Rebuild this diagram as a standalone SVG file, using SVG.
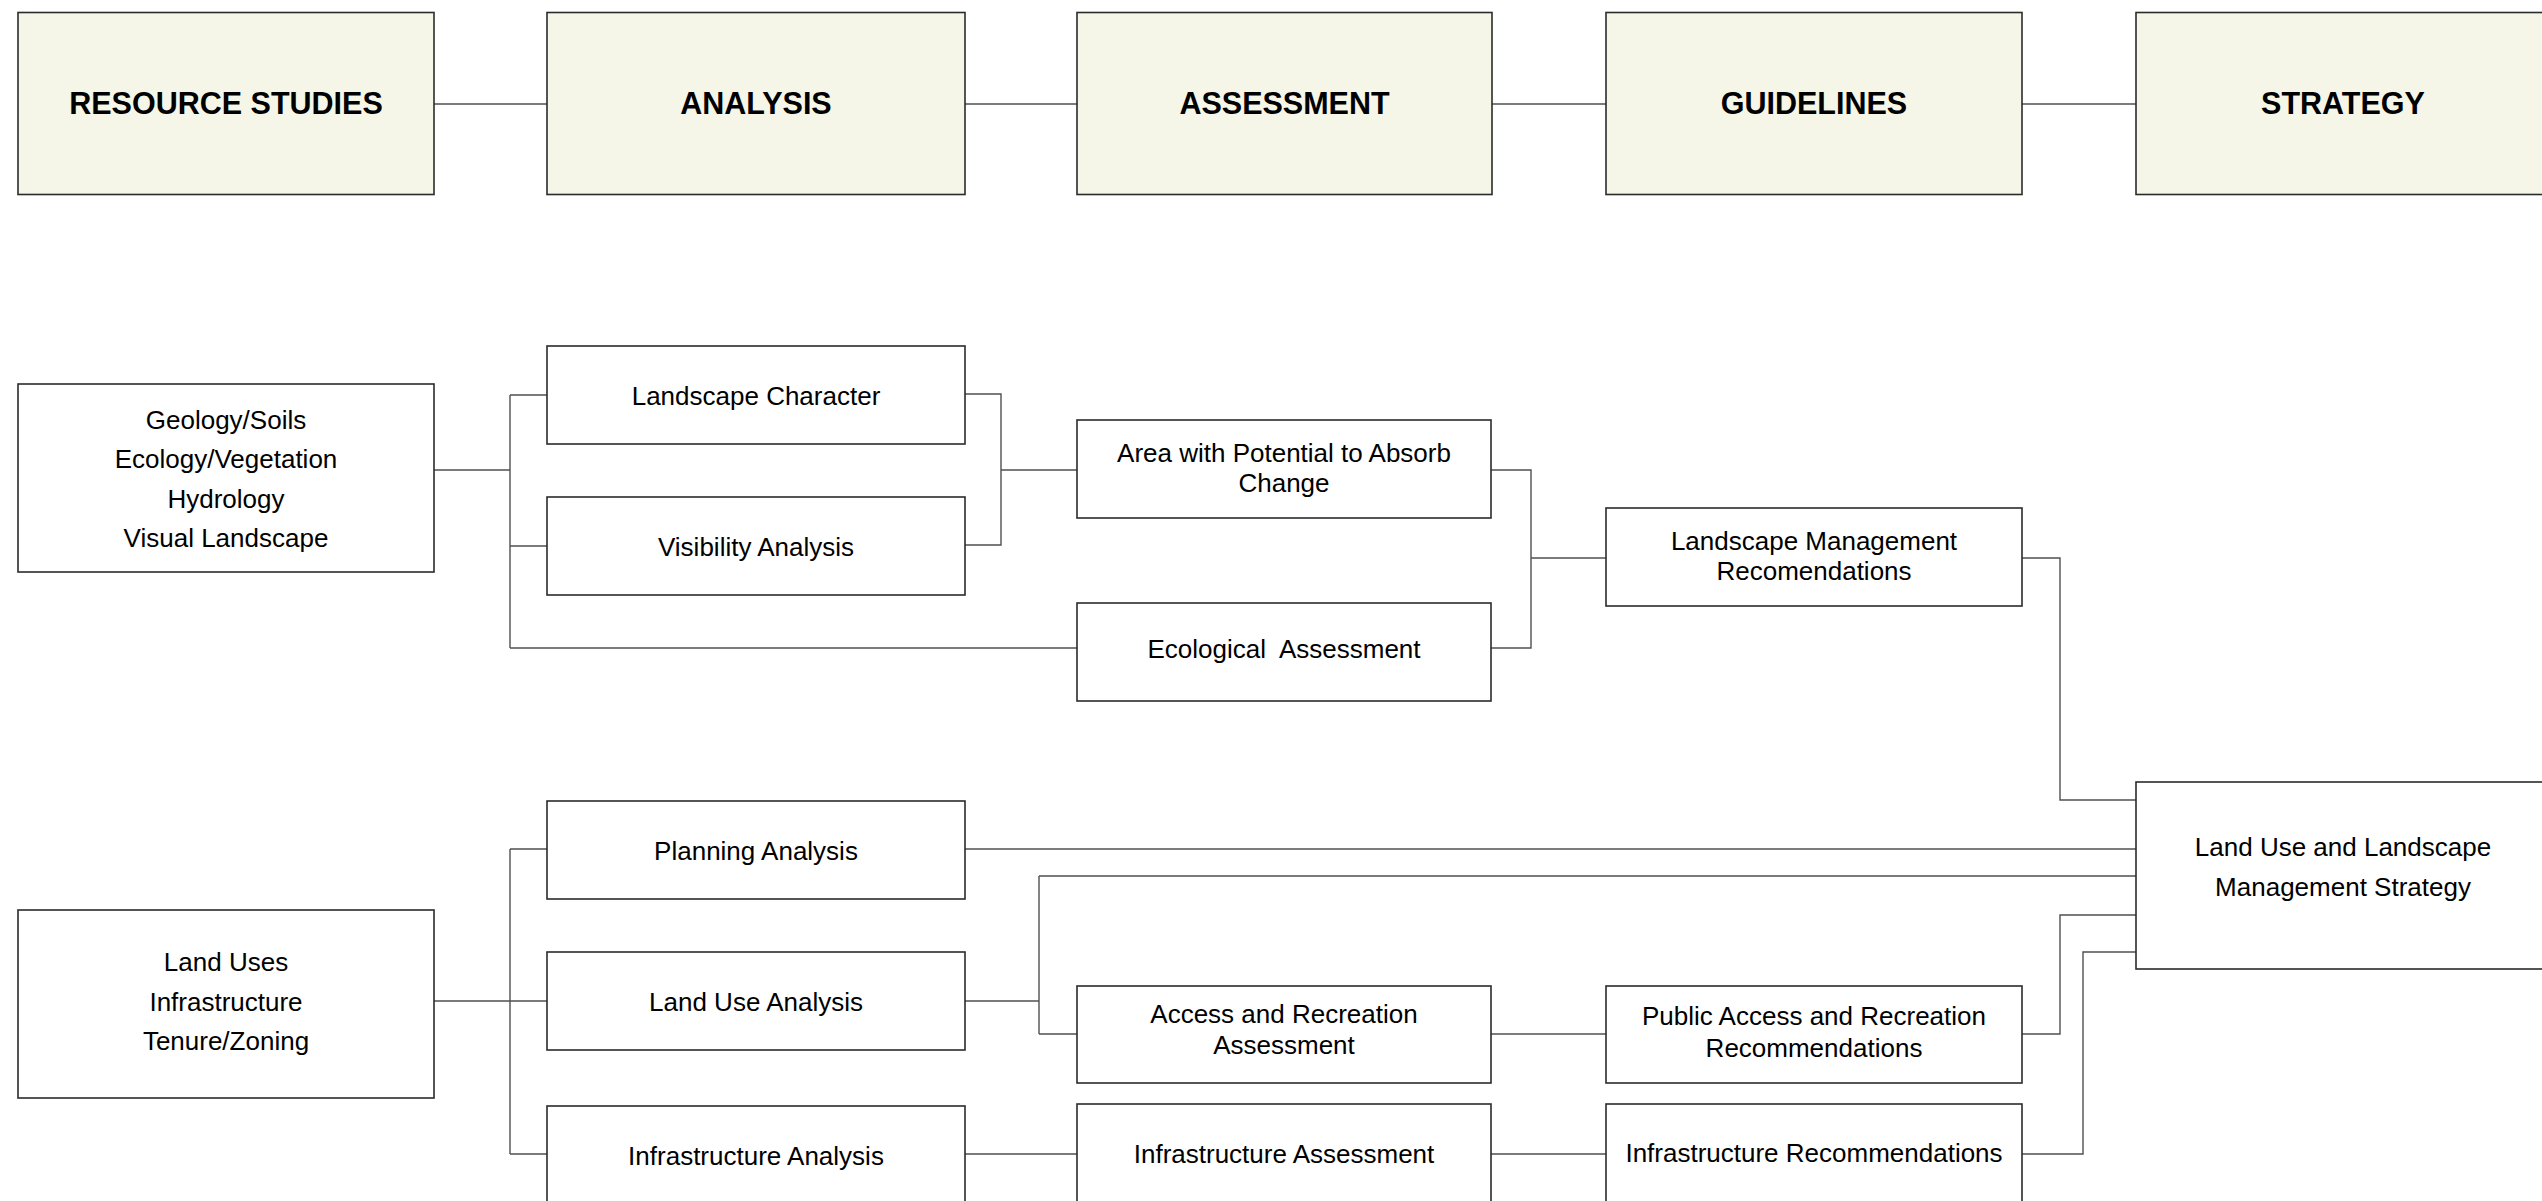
<svg xmlns="http://www.w3.org/2000/svg" width="2542" height="1201" viewBox="0 0 2542 1201">
<style>
  .hdr { fill: #F5F6E8; stroke: #2b2b2b; stroke-width: 1.6; }
  .box { fill: #FFFFFF; stroke: #2b2b2b; stroke-width: 1.6; }
  .ht { font-family: "Liberation Sans", Arial, sans-serif; font-size: 30.5px; font-weight: bold; fill: #000; text-anchor: middle; }
  .t { font-family: "Liberation Sans", Arial, sans-serif; font-size: 26px; fill: #000; text-anchor: middle; }
  .c { fill: none; stroke: #505050; stroke-width: 1.4; }
</style>
<rect width="2542" height="1201" fill="#FFFFFF"/>

<g id="connectors">
  <path class="c" d="M434,104 H547 M965,104 H1077 M1492,104 H1606 M2022,104 H2136"/>
  <path class="c" d="M434,470 H510 M510,395 V648 M510,395 H547 M510,546 H547 M510,648 H1077"/>
  <path class="c" d="M965,394 H1001 V545 H965 M1001,470 H1077"/>
  <path class="c" d="M1491,470 H1531 V648 H1491 M1531,558 H1606"/>
  <path class="c" d="M2022,558 H2060 V800 H2136"/>
  <path class="c" d="M434,1001 H547 M510,849 V1154 M510,849 H547 M510,1154 H547"/>
  <path class="c" d="M965,849 H2136"/>
  <path class="c" d="M965,1001 H1039 M1039,876 V1034 M1039,876 H2136 M1039,1034 H1077"/>
  <path class="c" d="M1491,1034 H1606"/>
  <path class="c" d="M2022,1034 H2060 V915 H2136"/>
  <path class="c" d="M965,1154 H1077 M1491,1154 H1606"/>
  <path class="c" d="M2022,1154 H2083 V952 H2136"/>
</g>

<g id="hdr-resource"><rect class="hdr" x="18" y="12.5" width="416" height="182"/><text class="ht" x="226" y="113.5">RESOURCE STUDIES</text></g>
<g id="hdr-analysis"><rect class="hdr" x="547" y="12.5" width="418" height="182"/><text class="ht" x="756" y="113.5">ANALYSIS</text></g>
<g id="hdr-assessment"><rect class="hdr" x="1077" y="12.5" width="415" height="182"/><text class="ht" x="1284.5" y="113.5">ASSESSMENT</text></g>
<g id="hdr-guidelines"><rect class="hdr" x="1606" y="12.5" width="416" height="182"/><text class="ht" x="1814" y="113.5">GUIDELINES</text></g>
<g id="hdr-strategy"><rect class="hdr" x="2136" y="12.5" width="416" height="182"/><text class="ht" x="2343" y="113.5">STRATEGY</text></g>

<g id="n-geology"><rect class="box" x="18" y="384" width="416" height="188"/>
  <text class="t" x="226" y="429">Geology/Soils</text>
  <text class="t" x="226" y="468">Ecology/Vegetation</text>
  <text class="t" x="226" y="507.5">Hydrology</text>
  <text class="t" x="226" y="546.5">Visual Landscape</text></g>
<g id="n-landscape-character"><rect class="box" x="547" y="346" width="418" height="98"/><text class="t" x="756" y="405">Landscape Character</text></g>
<g id="n-visibility"><rect class="box" x="547" y="497" width="418" height="98"/><text class="t" x="756" y="556">Visibility Analysis</text></g>
<g id="n-area"><rect class="box" x="1077" y="420" width="414" height="98"/>
  <text class="t" x="1284" y="461.5">Area with Potential to Absorb</text>
  <text class="t" x="1284" y="492">Change</text></g>
<g id="n-ecological"><rect class="box" x="1077" y="603" width="414" height="98"/><text class="t" x="1284" y="658" xml:space="preserve">Ecological  Assessment</text></g>
<g id="n-lm-rec"><rect class="box" x="1606" y="508" width="416" height="98"/>
  <text class="t" x="1814" y="550">Landscape Management</text>
  <text class="t" x="1814" y="580">Recomendations</text></g>

<g id="n-landuses"><rect class="box" x="18" y="910" width="416" height="188"/>
  <text class="t" x="226" y="970.5">Land Uses</text>
  <text class="t" x="226" y="1010.5">Infrastructure</text>
  <text class="t" x="226" y="1050">Tenure/Zoning</text></g>
<g id="n-planning"><rect class="box" x="547" y="801" width="418" height="98"/><text class="t" x="756" y="860">Planning Analysis</text></g>
<g id="n-landuse-analysis"><rect class="box" x="547" y="952" width="418" height="98"/><text class="t" x="756" y="1011">Land Use Analysis</text></g>
<g id="n-infra-analysis"><rect class="box" x="547" y="1106" width="418" height="98"/><text class="t" x="756" y="1165">Infrastructure Analysis</text></g>
<g id="n-access"><rect class="box" x="1077" y="986" width="414" height="97"/>
  <text class="t" x="1284" y="1022.5">Access and Recreation</text>
  <text class="t" x="1284" y="1053.5">Assessment</text></g>
<g id="n-infra-assess"><rect class="box" x="1077" y="1104" width="414" height="98"/><text class="t" x="1284" y="1162.5">Infrastructure Assessment</text></g>
<g id="n-public"><rect class="box" x="1606" y="986" width="416" height="97"/>
  <text class="t" x="1814" y="1024.5">Public Access and Recreation</text>
  <text class="t" x="1814" y="1056.5">Recommendations</text></g>
<g id="n-infra-rec"><rect class="box" x="1606" y="1104" width="416" height="98"/><text class="t" x="1814" y="1161.5">Infrastructure Recommendations</text></g>
<g id="n-strategy"><rect class="box" x="2136" y="782" width="416" height="187"/>
  <text class="t" x="2343" y="855.5">Land Use and Landscape</text>
  <text class="t" x="2343" y="895.5">Management Strategy</text></g>
</svg>
